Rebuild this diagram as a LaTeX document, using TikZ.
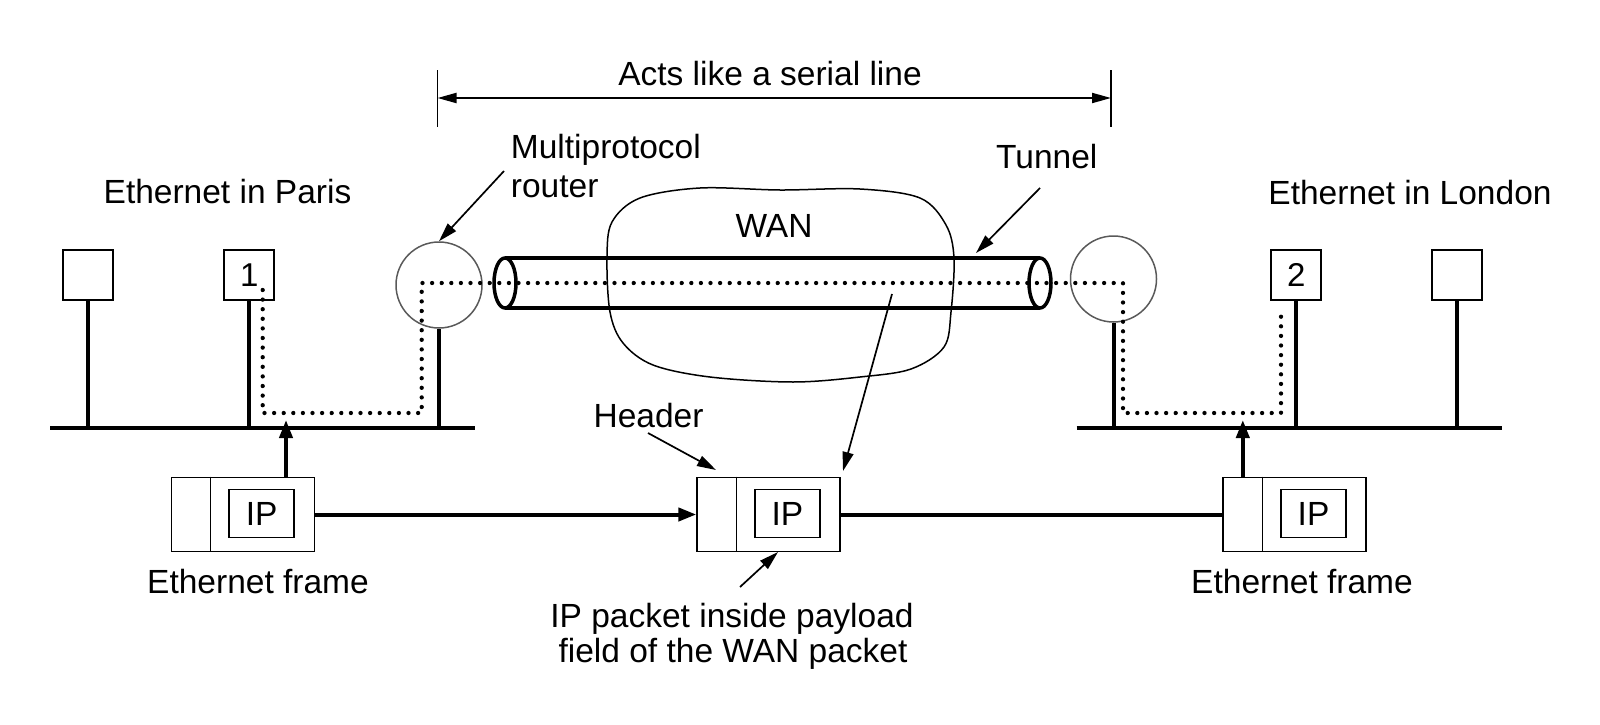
\documentclass[tikz,border=0pt]{standalone}
\usepackage{fontspec}
\setmainfont{Liberation Sans}
\usetikzlibrary{arrows.meta}
\begin{document}
\begin{tikzpicture}[x=1pt,y=-1pt,
  lbl/.style={inner sep=0pt, anchor=base, font=\fontsize{33.5}{40}\selectfont},
  hostbox/.style={draw, line width=1.7pt, minimum width=50pt, minimum height=50pt, inner sep=0pt, font=\fontsize{33}{40}\selectfont},
  router/.style={circle, draw=black!65, line width=1.5pt, minimum size=86pt, inner sep=0pt},
  bus/.style={line width=4pt},
  stem/.style={line width=4pt},
  tube/.style={line width=3.5pt},
  trail/.style={line width=4.3pt, line cap=round, dash pattern=on 0pt off 9.6pt},
  frame/.style={draw, line width=1.7pt, minimum width=143pt, minimum height=74pt, inner sep=0pt},
  ipbox/.style={draw, line width=1.7pt, minimum width=65pt, minimum height=48pt, inner sep=0pt, font=\fontsize{33.5}{40}\selectfont},
  thickarrow/.style={line width=4pt, -{Triangle[length=18pt,width=13pt]}},
  thinarrow/.style={line width=1.7pt, -{Triangle[length=19pt,width=11pt]}},
  tick/.style={line width=1.5pt},
]
\path[use as bounding box] (0,0) rectangle (1600,725);

% ---- top dimension ----
\coordinate (tlA) at (437.5,70); \coordinate (tlB) at (437.5,127);
\coordinate (trA) at (1111,70);  \coordinate (trB) at (1111,127);
\draw[tick] (tlA) -- (tlB);
\draw[tick] (trA) -- (trB);
\coordinate (dl) at (437.5,98); \coordinate (dr) at (1111,98);
\draw[line width=2pt, {Triangle[length=19pt,width=10pt]}-{Triangle[length=19pt,width=10pt]}] (dl) -- (dr);
\node[lbl] (acts) at (770,85) {Acts like a serial line};

% ---- labels ----
\node[lbl, anchor=base west] (mp1) at (510.7,158) {Multiprotocol};
\node[lbl, anchor=base west] (mp2) at (510.7,197) {router};
\node[lbl] (paris) at (227.5,203) {Ethernet in Paris};
\node[lbl] (london) at (1410,204) {Ethernet in London};
\node[lbl, anchor=base west] (tunnel) at (996,168) {Tunnel};
\node[lbl] (wan) at (774,237) {WAN};
\node[lbl] (header) at (648.5,427) {Header};
\node[lbl] (ef1) at (258,593) {Ethernet frame};
\node[lbl] (ef2) at (1302,593) {Ethernet frame};
\node[lbl] (ipp1) at (732,627) {IP packet inside payload};
\node[lbl] (ipp2) at (733,662) {field of the WAN packet};

% ---- WAN cloud ----
\draw[line width=1.5pt] plot[smooth cycle, tension=0.55] coordinates {
 (607,258) (612,222) (640,198) (700,188) (780,190) (860,189) (920,198)
 (946,225) (954,258) (951,312) (944,347) (911,369) (860,377) (793,382)
 (710,377) (653,365) (623,343) (610,312)};

% ---- tunnel ----
\draw[tube] (505,283) ellipse [x radius=11pt, y radius=25pt];
\draw[tube] (1040,283) ellipse [x radius=11pt, y radius=25pt];
\draw[tube] (505,258) -- (1040,258);
\draw[tube] (505,308) -- (1040,308);

% ---- buses ----
\coordinate (busL1) at (50,428); \coordinate (busL2) at (475,428);
\coordinate (busR1) at (1076.5,428); \coordinate (busR2) at (1502,428);
\draw[bus] (busL1) -- (busL2);
\draw[bus] (busR1) -- (busR2);

% ---- hosts ----
\node[hostbox] (h1) at (88,275) {};
\node[hostbox] (h2) at (249.3,275) {1};
\node[hostbox] (h3) at (1296.3,275) {2};
\node[hostbox] (h4) at (1457.3,275) {};
\draw[stem] (h1.south) -- (h1.south |- busL1);
\draw[stem] (h2.south) -- (h2.south |- busL1);
\draw[stem] (h3.south) -- (h3.south |- busR1);
\draw[stem] (h4.south) -- (h4.south |- busR1);

% ---- routers ----
\node[router] (r1) at (439,285) {};
\node[router] (r2) at (1113.5,279) {};
\draw[stem] (r1.south) -- (r1.south |- busL1);
\draw[stem] (r2.south) -- (r2.south |- busR1);

% ---- dotted path ----
\coordinate (p0) at (262.7,290);
\coordinate (p1) at (262.7,413);
\coordinate (p2) at (421.7,413);
\coordinate (p3) at (421.7,283);
\coordinate (p4) at (1123,283);
\coordinate (p5) at (1123,413);
\coordinate (p6) at (1281,413);
\coordinate (p7) at (1281,312);
\draw[trail] (p0) -- (p1) -- (p2) -- (p3) -- (p4) -- (p5) -- (p6) -- (p7);

% ---- frames ----
\node[frame] (lf) at (242.9,514.5) {};
\node[ipbox] (lip) at (261.7,513.5) {IP};
\draw[line width=1.7pt] ([xshift=40pt]lf.north west) -- ([xshift=40pt]lf.south west);
\node[frame] (mf) at (768.7,514.5) {};
\node[ipbox] (mip) at (787.5,513.5) {IP};
\draw[line width=1.7pt] ([xshift=40pt]mf.north west) -- ([xshift=40pt]mf.south west);
\node[frame] (rf) at (1294.7,514.5) {};
\node[ipbox] (rip) at (1313.5,513.5) {IP};
\draw[line width=1.7pt] ([xshift=40pt]rf.north west) -- ([xshift=40pt]rf.south west);

% ---- frame connectors ----
\draw[thickarrow] (lf.east) -- (mf.west);
\draw[line width=4pt] (mf.east) -- (rf.west);
\coordinate (upL) at (286,420);
\coordinate (upR) at (1242.8,420);
\draw[thickarrow] (upL |- lf.north) -- (upL);
\draw[thickarrow] (upR |- rf.north) -- (upR);

% ---- pointer arrows ----
\coordinate (mpa) at (504,171);
\draw[thinarrow] (mpa) -- (r1.north);
\coordinate (tua) at (1040,188); \coordinate (tub) at (976,253);
\draw[thinarrow] (tua) -- (tub);
\coordinate (pla) at (892,294); \coordinate (plb) at (843,471);
\draw[thinarrow] (pla) -- (plb);
\coordinate (hda) at (648,433); \coordinate (hdb) at (716,470);
\draw[thinarrow] (hda) -- (hdb);
\coordinate (ipa) at (740,587); \coordinate (ipb) at (778,552);
\draw[thinarrow] (ipa) -- (ipb);
\end{tikzpicture}
\end{document}
